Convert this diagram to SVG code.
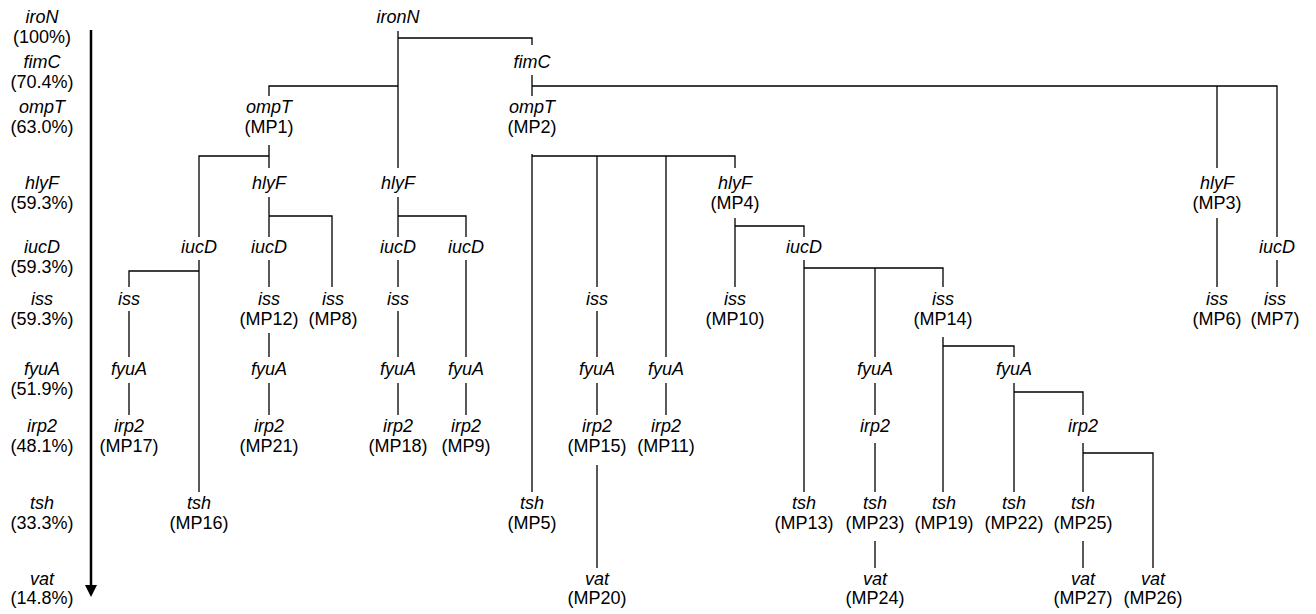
<svg xmlns="http://www.w3.org/2000/svg" width="1316" height="614" viewBox="0 0 1316 614">
<style>
text{font-family:"Liberation Sans",Arial,sans-serif;font-size:18px;fill:#000;text-anchor:middle}
.g{font-style:italic}
.c{fill:none;stroke:#000;stroke-width:1.3}
.ax{stroke:#000;stroke-width:2.5}
</style>
<defs>
<marker id="ah" markerWidth="12" markerHeight="12" refX="6" refY="0" orient="auto" markerUnits="userSpaceOnUse" viewBox="0 0 12 12">
<path d="M0,0 L12,0 L6,12 Z" fill="#000"/>
</marker>
</defs>
<g id="axis">
<line class="ax" x1="91" y1="30" x2="91" y2="585"/>
<path d="M85,585 L97,585 L91,597 Z" fill="#000"/>
<text x="42" y="23" class="g">iroN</text><text x="42" y="43">(100%)</text>
<text x="42" y="68" class="g">fimC</text><text x="42" y="88">(70.4%)</text>
<text x="42" y="113" class="g">ompT</text><text x="42" y="133">(63.0%)</text>
<text x="42" y="189" class="g">hlyF</text><text x="42" y="209">(59.3%)</text>
<text x="42" y="253" class="g">iucD</text><text x="42" y="273">(59.3%)</text>
<text x="42" y="305" class="g">iss</text><text x="42" y="325">(59.3%)</text>
<text x="42" y="375" class="g">fyuA</text><text x="42" y="395">(51.9%)</text>
<text x="42" y="432" class="g">irp2</text><text x="42" y="452">(48.1%)</text>
<text x="42" y="509" class="g">tsh</text><text x="42" y="529">(33.3%)</text>
<text x="42" y="585" class="g">vat</text><text x="42" y="604">(14.8%)</text>
</g>
<g id="connectors">
<path class="c" d="M398,31 V168 M398,38 H532 V45 M269,96 V86 H398"/>
<path class="c" d="M532,75 V96 M532,86 H1277 V237 M1217,86 V168"/>
<path class="c" d="M269,145 V168 M199,237 V156 H269"/>
<path class="c" d="M269,197 V237 M269,216 H332 V287"/>
<path class="c" d="M199,260 V492 M129,287 V271 H199"/>
<path class="c" d="M129,311 V357 M129,383 V415"/>
<path class="c" d="M269,260 V287 M269,333 V357 M269,383 V415"/>
<path class="c" d="M398,197 V237 M398,216 H466 V237"/>
<path class="c" d="M398,260 V287 M398,311 V357 M398,383 V415"/>
<path class="c" d="M466,260 V357 M466,383 V415"/>
<path class="c" d="M532,154 V492 M532,156 H735 V168 M597,156 V287 M666,156 V357"/>
<path class="c" d="M597,311 V357 M597,383 V415 M597,465 V568"/>
<path class="c" d="M666,383 V415"/>
<path class="c" d="M735,218 V287 M735,226 H804 V237"/>
<path class="c" d="M804,260 V492 M804,268 H943 V287 M875,268 V357"/>
<path class="c" d="M875,383 V415 M875,443 V492 M875,541 V568"/>
<path class="c" d="M943,337 V492 M943,346 H1014 V357"/>
<path class="c" d="M1014,383 V492 M1014,392 H1083 V415"/>
<path class="c" d="M1083,443 V492 M1083,453 H1153 V568 M1083,541 V568"/>
<path class="c" d="M1217,218 V287 M1277,260 V287"/>
</g>
<g id="n-ironN"><text x="398" y="23" class="g">ironN</text></g>
<g id="n-fimC"><text x="532" y="68" class="g">fimC</text></g>
<g id="n-MP1"><text x="269" y="113" class="g">ompT</text><text x="269" y="133">(MP1)</text></g>
<g id="n-MP2"><text x="532" y="113" class="g">ompT</text><text x="532" y="133">(MP2)</text></g>
<g id="n-hlyF-1"><text x="269" y="189" class="g">hlyF</text></g>
<g id="n-hlyF-2"><text x="398" y="189" class="g">hlyF</text></g>
<g id="n-MP4"><text x="735" y="189" class="g">hlyF</text><text x="735" y="209">(MP4)</text></g>
<g id="n-MP3"><text x="1217" y="189" class="g">hlyF</text><text x="1217" y="209">(MP3)</text></g>
<g id="n-iucD-1"><text x="199" y="253" class="g">iucD</text></g>
<g id="n-iucD-2"><text x="269" y="253" class="g">iucD</text></g>
<g id="n-iucD-3"><text x="398" y="253" class="g">iucD</text></g>
<g id="n-iucD-4"><text x="466" y="253" class="g">iucD</text></g>
<g id="n-iucD-5"><text x="804" y="253" class="g">iucD</text></g>
<g id="n-iucD-6"><text x="1277" y="253" class="g">iucD</text></g>
<g id="n-iss-1"><text x="129" y="305" class="g">iss</text></g>
<g id="n-MP12"><text x="269" y="305" class="g">iss</text><text x="269" y="325">(MP12)</text></g>
<g id="n-MP8"><text x="333" y="305" class="g">iss</text><text x="333" y="325">(MP8)</text></g>
<g id="n-iss-2"><text x="398" y="305" class="g">iss</text></g>
<g id="n-iss-3"><text x="597" y="305" class="g">iss</text></g>
<g id="n-MP10"><text x="735" y="305" class="g">iss</text><text x="735" y="325">(MP10)</text></g>
<g id="n-MP14"><text x="943" y="305" class="g">iss</text><text x="943" y="325">(MP14)</text></g>
<g id="n-MP6"><text x="1217" y="305" class="g">iss</text><text x="1217" y="325">(MP6)</text></g>
<g id="n-MP7"><text x="1275" y="305" class="g">iss</text><text x="1275" y="325">(MP7)</text></g>
<g id="n-fyuA-1"><text x="129" y="375" class="g">fyuA</text></g>
<g id="n-fyuA-2"><text x="269" y="375" class="g">fyuA</text></g>
<g id="n-fyuA-3"><text x="398" y="375" class="g">fyuA</text></g>
<g id="n-fyuA-4"><text x="466" y="375" class="g">fyuA</text></g>
<g id="n-fyuA-5"><text x="597" y="375" class="g">fyuA</text></g>
<g id="n-fyuA-6"><text x="666" y="375" class="g">fyuA</text></g>
<g id="n-fyuA-7"><text x="875" y="375" class="g">fyuA</text></g>
<g id="n-fyuA-8"><text x="1014" y="375" class="g">fyuA</text></g>
<g id="n-MP17"><text x="129" y="432" class="g">irp2</text><text x="129" y="452">(MP17)</text></g>
<g id="n-MP21"><text x="269" y="432" class="g">irp2</text><text x="269" y="452">(MP21)</text></g>
<g id="n-MP18"><text x="398" y="432" class="g">irp2</text><text x="398" y="452">(MP18)</text></g>
<g id="n-MP9"><text x="466" y="432" class="g">irp2</text><text x="466" y="452">(MP9)</text></g>
<g id="n-MP15"><text x="597" y="432" class="g">irp2</text><text x="597" y="452">(MP15)</text></g>
<g id="n-MP11"><text x="666" y="432" class="g">irp2</text><text x="666" y="452">(MP11)</text></g>
<g id="n-irp2-1"><text x="875" y="432" class="g">irp2</text></g>
<g id="n-irp2-2"><text x="1083" y="432" class="g">irp2</text></g>
<g id="n-MP16"><text x="199" y="509" class="g">tsh</text><text x="199" y="529">(MP16)</text></g>
<g id="n-MP5"><text x="532" y="509" class="g">tsh</text><text x="532" y="529">(MP5)</text></g>
<g id="n-MP13"><text x="804" y="509" class="g">tsh</text><text x="804" y="529">(MP13)</text></g>
<g id="n-MP23"><text x="875" y="509" class="g">tsh</text><text x="875" y="529">(MP23)</text></g>
<g id="n-MP19"><text x="944" y="509" class="g">tsh</text><text x="944" y="529">(MP19)</text></g>
<g id="n-MP22"><text x="1014" y="509" class="g">tsh</text><text x="1014" y="529">(MP22)</text></g>
<g id="n-MP25"><text x="1083" y="509" class="g">tsh</text><text x="1083" y="529">(MP25)</text></g>
<g id="n-MP20"><text x="597" y="585" class="g">vat</text><text x="597" y="604">(MP20)</text></g>
<g id="n-MP24"><text x="875" y="585" class="g">vat</text><text x="875" y="604">(MP24)</text></g>
<g id="n-MP27"><text x="1083" y="585" class="g">vat</text><text x="1083" y="604">(MP27)</text></g>
<g id="n-MP26"><text x="1153" y="585" class="g">vat</text><text x="1153" y="604">(MP26)</text></g>
</svg>
